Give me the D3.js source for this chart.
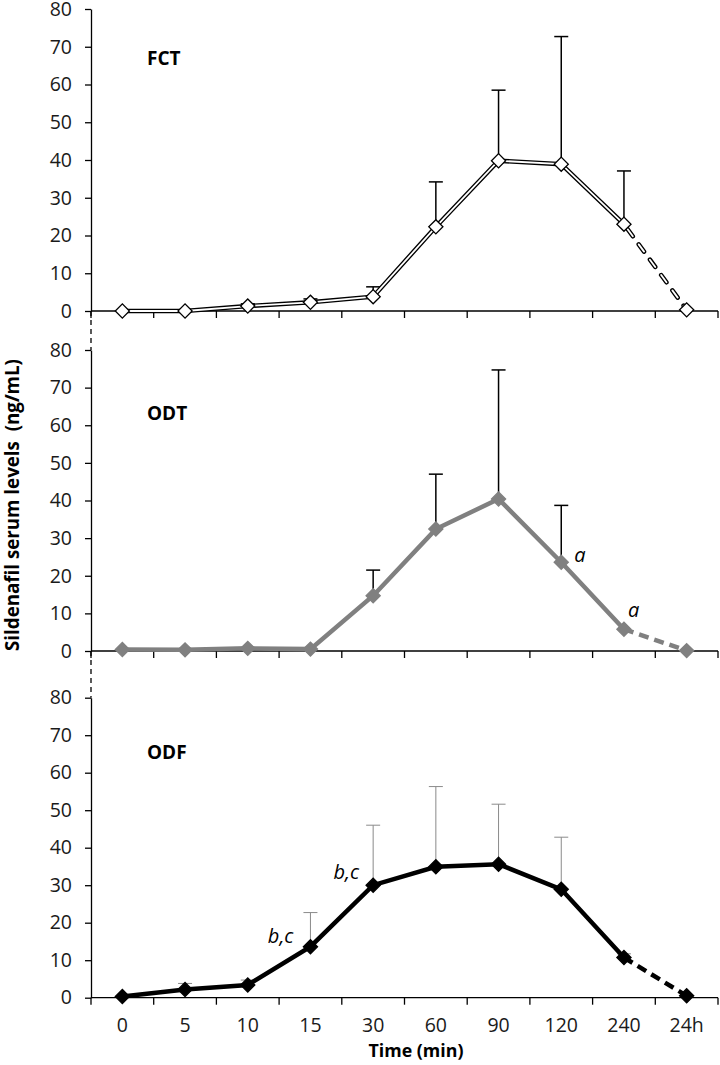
<!DOCTYPE html>
<html>
<head>
<meta charset="utf-8">
<script src="https://cdn.jsdelivr.net/npm/d3@7"></script>
<style>
  html, body { margin: 0; padding: 0; background: #fff; }
  svg { display: block; }
  text { font-family: "Open Sans", "DejaVu Sans", sans-serif; }
</style>
</head>
<body>
<svg id="chart" width="720" height="1065"></svg>
<script>
// ---------- data ----------
const categories = ["0", "5", "10", "15", "30", "60", "90", "120", "240", "24h"];
const yTicks = [0, 10, 20, 30, 40, 50, 60, 70, 80];

const fctMean = [0.0, 0.0, 1.3, 2.3, 3.8, 22.3, 39.8, 38.9, 23.0, 0.3];
const fctSD   = [0.0, 0.0, 0.6, 0.9, 2.6, 11.9, 18.7, 33.8, 14.1, 0.0];

const odtMean = [0.4, 0.3, 0.7, 0.5, 14.7, 32.4, 40.4, 23.6, 5.8, 0.1];
const odtSD   = [0.0, 0.0, 0.0, 0.0, 6.8, 14.6, 34.3, 15.1, 0.0, 0.0];

const odfMean = [0.3, 2.2, 3.4, 13.6, 30.0, 34.9, 35.6, 28.9, 10.7, 0.5];
const odfSD   = [0.0, 1.6, 1.3, 9.1, 16.0, 21.4, 16.0, 13.9, 1.0, 0.0];

const panelNames = ["FCT", "ODT", "ODF"];
const odtNotes = [{ cat: "120", text: "a" }, { cat: "240", text: "a" }];
const odfNotes = [{ cat: "15", text: "b,c" }, { cat: "30", text: "b,c" }];

// ---------- layout ----------
const svg = d3.select("#chart");
const x = d3.scaleBand().domain(categories).range([91, 718]).padding(0);
const cx = c => x(c) + x.bandwidth() / 2;
const TICK_FS = 19.5;

function fitWidth(sel, target) {
  const fs = parseFloat(sel.attr("font-size"));
  const w = sel.node().getComputedTextLength();
  if (w > 0) sel.attr("font-size", (fs * target / w).toFixed(2));
}

const panels = [
  { name: panelNames[0], mean: fctMean, sd: fctSD, range: [311, 9], style: "fct", titleY: 65.2, notes: [] },
  { name: panelNames[1], mean: odtMean, sd: odtSD, range: [651, 350], style: "odt", titleY: 61.4, notes: odtNotes },
  { name: panelNames[2], mean: odfMean, sd: odfSD, range: [997.7, 697.7], style: "odf", titleY: 63.7, notes: odfNotes }
];

const diamond = d3.symbol().type(d3.symbolSquare).size(100);

panels.forEach((p, pi) => {
  const y = d3.scaleLinear().domain([0, 80]).range(p.range);
  const g = svg.append("g");
  const pts = categories.map((c, i) => ({ c, v: p.mean[i], sd: p.sd[i] }));

  // y axis
  const ya = g.append("g").attr("transform", "translate(91,0)")
    .call(d3.axisLeft(y).tickValues(yTicks).tickSize(6).tickSizeOuter(0).tickPadding(13));
  ya.select(".domain").attr("stroke", "#000").attr("stroke-width", 1.3);
  ya.selectAll(".tick line").attr("stroke", "#000").attr("stroke-width", 1.3);
  ya.selectAll(".tick text").attr("font-size", TICK_FS).attr("fill", "#1a1a1a")
    .attr("font-family", "'Open Sans', sans-serif");

  // x axis line
  g.append("line").attr("x1", 91).attr("x2", 718)
    .attr("y1", y(0)).attr("y2", y(0)).attr("stroke", "#000").attr("stroke-width", 1.3);
  // x ticks at band boundaries
  const bounds = categories.map(c => x(c)).concat([x.range()[1]]);
  g.selectAll(".xt").data(bounds).enter().append("line")
    .attr("x1", d => d).attr("x2", d => d)
    .attr("y1", y(0)).attr("y2", y(0) + 7)
    .attr("stroke", "#000").attr("stroke-width", 1.3);

  // x labels only on bottom
  if (pi === 2) {
    const xa = g.append("g").attr("transform", `translate(0,${y(0)})`)
      .call(d3.axisBottom(x).tickSize(0).tickPadding(20));
    xa.select(".domain").remove();
    xa.selectAll(".tick text").attr("font-size", TICK_FS).attr("fill", "#1a1a1a")
      .attr("font-family", "'Open Sans', sans-serif");
  }

  // title
  g.append("text").attr("x", 147).attr("y", y(p.titleY))
    .attr("font-size", 19).attr("font-weight", "bold").attr("fill", "#000").text(p.name);

  // error bars
  const ebColor = p.style === "odf" ? "#8a8a8a" : "#000";
  const ebW = p.style === "odf" ? 1 : 1.5;
  const eb = g.selectAll(".eb").data(pts.filter(d => d.sd > 0)).enter().append("g");
  eb.append("line").attr("x1", d => cx(d.c)).attr("x2", d => cx(d.c))
    .attr("y1", d => y(d.v)).attr("y2", d => y(d.v + d.sd))
    .attr("stroke", ebColor).attr("stroke-width", ebW);
  eb.append("line").attr("x1", d => cx(d.c) - 7).attr("x2", d => cx(d.c) + 7)
    .attr("y1", d => y(d.v + d.sd)).attr("y2", d => y(d.v + d.sd))
    .attr("stroke", ebColor).attr("stroke-width", ebW);

  // lines
  const line = d3.line().x(d => cx(d.c)).y(d => y(d.v));
  const solid = pts.slice(0, 9);
  const dashed = pts.slice(8);
  if (p.style === "fct") {
    g.append("path").attr("d", line(solid)).attr("fill", "none")
      .attr("stroke", "#000").attr("stroke-width", 4.5).attr("stroke-linejoin", "miter");
    g.append("path").attr("d", line(solid)).attr("fill", "none")
      .attr("stroke", "#fff").attr("stroke-width", 1.8);
    g.append("path").attr("d", line(dashed)).attr("fill", "none")
      .attr("stroke", "#000").attr("stroke-width", 4.5).attr("stroke-dasharray", "9,10")
      .attr("stroke-dashoffset", -6).attr("stroke-linecap", "round");
    g.append("path").attr("d", line(dashed)).attr("fill", "none")
      .attr("stroke", "#fff").attr("stroke-width", 1.8).attr("stroke-dasharray", "9,10")
      .attr("stroke-dashoffset", -6).attr("stroke-linecap", "round");
  } else {
    const col = p.style === "odt" ? "#808080" : "#000";
    g.append("path").attr("d", line(solid)).attr("fill", "none")
      .attr("stroke", col).attr("stroke-width", 4.5);
    g.append("path").attr("d", line(dashed)).attr("fill", "none")
      .attr("stroke", col).attr("stroke-width", 4.5).attr("stroke-dasharray", "10,6");
  }

  // markers
  g.selectAll(".mk").data(pts).enter().append("path")
    .attr("d", diamond)
    .attr("transform", d => `translate(${cx(d.c)},${y(d.v)}) rotate(45)`)
    .attr("fill", p.style === "fct" ? "#fff" : (p.style === "odt" ? "#808080" : "#000"))
    .attr("stroke", p.style === "fct" ? "#000" : (p.style === "odt" ? "#808080" : "#000"))
    .attr("stroke-width", 1.3);

  // notes
  p.notes.forEach(n => {
    const i = categories.indexOf(n.cat);
    const v = p.mean[i];
    let tx, ty, anchor;
    if (p.style === "odt") {
      tx = n.cat === "120" ? cx(n.cat) + 13 : cx(n.cat) + 4;
      ty = n.cat === "120" ? y(v) : y(v) - 12;
      anchor = "start";
    } else {
      tx = n.cat === "15" ? cx(n.cat) - 17 : cx(n.cat) - 14;
      ty = n.cat === "15" ? y(v) - 4 : y(v) - 6;
      anchor = "end";
    }
    g.append("text").attr("x", tx).attr("y", ty).attr("text-anchor", anchor)
      .attr("font-size", 20).attr("font-style", "italic").attr("fill", "#000").text(n.text);
  });

  p.y = y;
});

// dashed connectors between panels
for (let i = 0; i < 2; i++) {
  svg.append("line").attr("x1", 91).attr("x2", 91)
    .attr("y1", panels[i].y(0)).attr("y2", panels[i + 1].y(80))
    .attr("stroke", "#000").attr("stroke-width", 1.3).attr("stroke-dasharray", "5,4");
}

// axis titles
const yl = svg.append("text")
  .attr("transform", "translate(19,505) rotate(-90)")
  .attr("text-anchor", "middle").attr("font-size", 16.5).attr("font-weight", "bold")
  .style("white-space", "pre").attr("fill", "#000")
  .text("Sildenafil serum levels  (ng/mL)");
fitWidth(yl, 292);

const xl = svg.append("text").attr("x", 416).attr("y", 1057).attr("text-anchor", "middle")
  .attr("font-size", 17).attr("font-weight", "bold").attr("fill", "#000").text("Time (min)");
fitWidth(xl, 95);
</script>
</body>
</html>
